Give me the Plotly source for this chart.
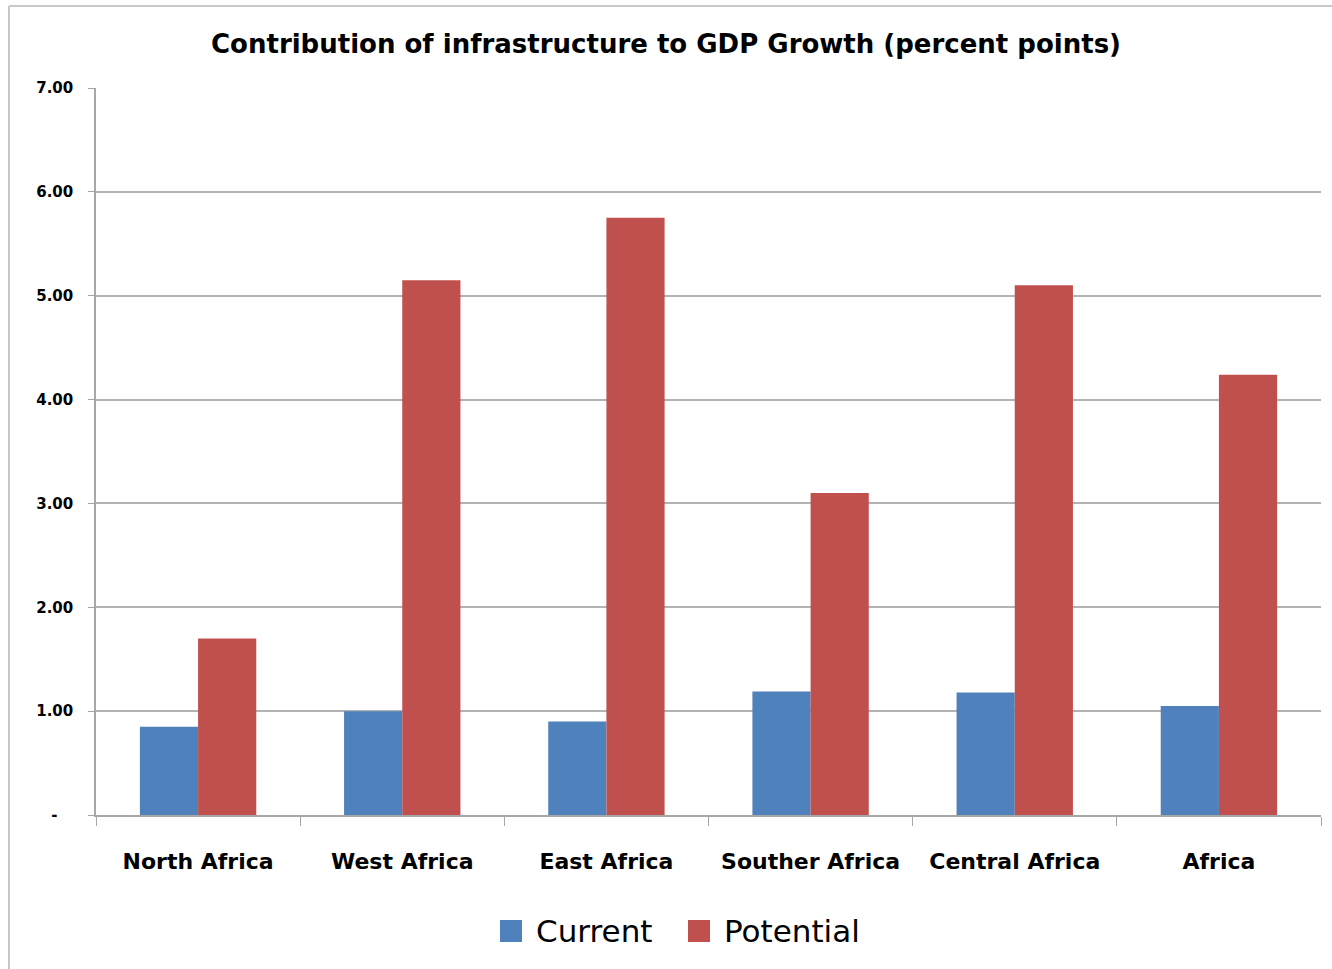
import plotly.graph_objects as go

regions = ["North Africa", "West Africa", "East Africa", "Souther Africa", "Central Africa", "Africa"]
current = [0.85, 1.00, 0.90, 1.19, 1.18, 1.05]
potential = [1.70, 5.15, 5.75, 3.10, 5.10, 4.24]
y_ticks = [0, 1, 2, 3, 4, 5, 6, 7]
y_tick_text = ["-\u00a0\u00a0\u00a0", "1.00", "2.00", "3.00", "4.00", "5.00", "6.00", "7.00"]
series_names = ["Current", "Potential"]
series_colors = ["#4F81BD", "#C0504D"]

W, H = 1332, 969
L, R, T, B = 96, 11, 88, 154
pw, ph = W - L - R, H - T - B

def px_x(p):
    return (p - L) / pw

def px_y(p):
    return (H - B - p) / ph

fig = go.Figure()
for name, values, color in zip(series_names, [current, potential], series_colors):
    fig.add_trace(go.Bar(name=name, x=regions, y=values, marker_color=color,
                         marker_line_width=0, showlegend=False))

fig.update_layout(
    width=W, height=H,
    paper_bgcolor="white", plot_bgcolor="white",
    margin=dict(l=L, r=R, t=T, b=B, pad=0),
    barmode="group", bargap=0.43, bargroupgap=0,
    title=dict(text="<b>Contribution of infrastructure to GDP Growth (percent points)</b>",
               x=0.5, xanchor="center", y=1 - 44 / H, yanchor="middle",
               font=dict(family="DejaVu Sans", size=26, color="black")),
    font=dict(family="DejaVu Sans", color="black"),
)

fig.update_xaxes(
    tickson="boundaries", ticks="outside", ticklen=9, tickcolor="#a6a6a6", tickwidth=1,
    showline=True, linecolor="#a6a6a6", linewidth=1.5,
    tickfont=dict(family="DejaVu Sans", size=22, color="black", weight="bold"),
    ticklabelstandoff=26,
    showgrid=False,
)
fig.update_yaxes(
    range=[0, 7], tickvals=y_ticks, ticktext=y_tick_text,
    ticks="outside", ticklen=6, tickcolor="#a6a6a6",
    showline=True, linecolor="#a6a6a6", linewidth=1.5,
    gridcolor="#b3b3b3", gridwidth=1.5, zeroline=False,
    tickfont=dict(family="DejaVu Sans", size=15, color="black", weight="bold"),
    ticklabelstandoff=12,
)

# legend: coloured squares with labels below the plot
legend_items = [(500, 534), (688, 722)]
for (sq_x, txt_x), name, color in zip(legend_items, series_names, series_colors):
    fig.add_shape(type="rect", xref="paper", yref="paper",
                  x0=px_x(sq_x), x1=px_x(sq_x + 22), y0=px_y(942), y1=px_y(920),
                  fillcolor=color, line_width=0)
    fig.add_annotation(text=name, xref="paper", yref="paper",
                       x=px_x(txt_x), y=px_y(931), xanchor="left", yanchor="middle",
                       showarrow=False,
                       font=dict(family="DejaVu Sans", size=31, color="black"))

# outer chart border (top and left edges)
fig.add_shape(type="line", xref="paper", yref="paper",
              x0=px_x(9), x1=px_x(1340), y0=px_y(6), y1=px_y(6),
              line=dict(color="#c8c8c8", width=2))
fig.add_shape(type="line", xref="paper", yref="paper",
              x0=px_x(9), x1=px_x(9), y0=px_y(6), y1=px_y(975),
              line=dict(color="#c8c8c8", width=2))

fig.write_html("out.html")
